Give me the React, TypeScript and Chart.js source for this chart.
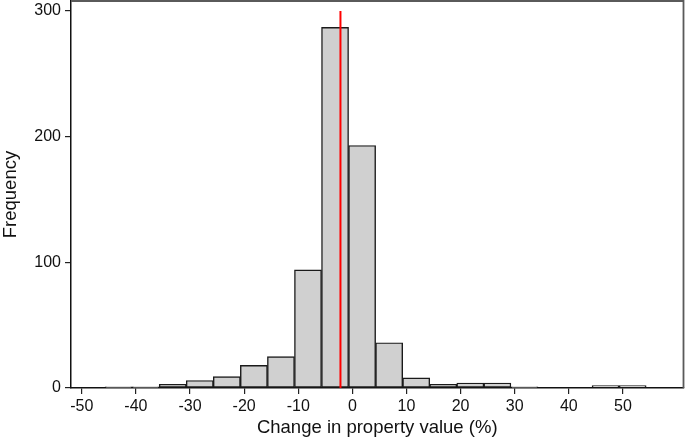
import React, { useEffect, useRef } from "react";
import { Chart, registerables } from "chart.js";

Chart.register(...registerables);

// Histogram bins: lower edge of each 5-point-wide bin (percent change)
const binStarts = [
  -45.7, -40.7, -35.7, -30.7, -25.7, -20.7, -15.7, -10.7, -5.7, -0.7,
  4.3, 9.3, 14.3, 19.3, 24.3, 29.3, 34.3, 39.3, 44.3, 49.3,
];
const binWidth = 5;
const frequencies = [
  1, 1, 3, 6, 9, 18, 25, 94, 287, 193,
  36, 8, 3, 4, 4, 1, 0, 0, 2, 2,
];
const xTicks = [-50, -40, -30, -20, -10, 0, 10, 20, 30, 40, 50];
const yTicks = [0, 100, 200, 300];
const markerValue = -2.2; // red reference line (median change)
const markerTop = 300;

const FONT = "'Liberation Sans', Arial, Helvetica, sans-serif";

export default function App() {
  const canvasRef = useRef<HTMLCanvasElement | null>(null);

  useEffect(() => {
    const canvas = canvasRef.current;
    if (!canvas) return;

    const points = binStarts.map((s, i) => ({ x: s + binWidth / 2, y: frequencies[i] }));

    const framePlugin = {
      id: "frameAndMarker",
      beforeDatasetsDraw(chart: any) {
        const { ctx, chartArea } = chart;
        ctx.save();
        ctx.strokeStyle = "#5a5a5a";
        ctx.lineWidth = 1.8;
        ctx.beginPath();
        ctx.moveTo(chartArea.left, chartArea.top);
        ctx.lineTo(chartArea.right, chartArea.top);
        ctx.lineTo(chartArea.right, chartArea.bottom);
        ctx.stroke();
        ctx.restore();
      },
      afterDatasetsDraw(chart: any) {
        const { ctx } = chart;
        const xs = chart.scales.x;
        const ys = chart.scales.y;
        const px = xs.getPixelForValue(markerValue);
        ctx.save();
        ctx.strokeStyle = "#ff0000";
        ctx.lineWidth = 2;
        ctx.beginPath();
        ctx.moveTo(px, ys.getPixelForValue(0));
        ctx.lineTo(px, ys.getPixelForValue(markerTop));
        ctx.stroke();
        ctx.restore();
      },
    };

    const chart = new Chart(canvas, {
      type: "bar",
      data: {
        datasets: [
          {
            data: points as any,
            backgroundColor: "#d0d0d0",
            borderColor: "#1a1a1a",
            borderWidth: 1.4,
            borderSkipped: false,
            barPercentage: 1,
            categoryPercentage: 1,
            grouped: false,
          } as any,
        ],
      },
      options: {
        animation: false,
        responsive: true,
        maintainAspectRatio: false,
        layout: { padding: { top: 1, right: 1.5, left: 0, bottom: 0 } },
        plugins: {
          legend: { display: false },
          tooltip: { enabled: false },
        },
        scales: {
          x: {
            type: "linear",
            offset: false,
            min: -52,
            max: 61.2,
            afterBuildTicks: (axis: any) => {
              axis.ticks = xTicks.map((v) => ({ value: v }));
            },
            afterFit: (axis: any) => {
              axis.height = 52;
              axis.paddingLeft = 0;
              axis.paddingRight = 0;
            },
            grid: {
              display: true,
              offset: false,
              drawOnChartArea: false,
              drawTicks: true,
              tickLength: 6,
              color: "#222",
              lineWidth: 1.2,
            },
            border: { display: true, color: "#111", width: 1.5 },
            ticks: {
              color: "#111",
              padding: 3,
              maxRotation: 0,
              autoSkip: false,
              font: { family: FONT, size: 16 },
            },
            title: {
              display: true,
              text: "Change in property value (%)",
              color: "#111",
              padding: { top: 0, bottom: 1 },
              font: { family: FONT, size: 18.5 },
            },
          },
          y: {
            type: "linear",
            min: 0,
            max: 308,
            afterBuildTicks: (axis: any) => {
              axis.ticks = yTicks.map((v) => ({ value: v }));
            },
            afterFit: (axis: any) => {
              axis.width = 71;
              axis.paddingTop = 0;
              axis.paddingBottom = 0;
            },
            grid: {
              display: true,
              drawOnChartArea: false,
              drawTicks: true,
              tickLength: 6,
              color: "#222",
              lineWidth: 1.2,
            },
            border: { display: true, color: "#111", width: 1.5 },
            ticks: {
              color: "#111",
              padding: 4,
              autoSkip: false,
              font: { family: FONT, size: 16 },
            },
            title: {
              display: true,
              text: "Frequency",
              color: "#111",
              padding: { top: 0, bottom: 0 },
              font: { family: FONT, size: 18.5 },
            },
          },
        },
      },
      plugins: [framePlugin],
    });

    return () => {
      chart.destroy();
    };
  }, []);

  return (
    <div
      style={{
        position: "fixed",
        left: 0,
        top: 0,
        width: 685,
        height: 440,
        background: "#fff",
      }}
    >
      <canvas ref={canvasRef} />
    </div>
  );
}
